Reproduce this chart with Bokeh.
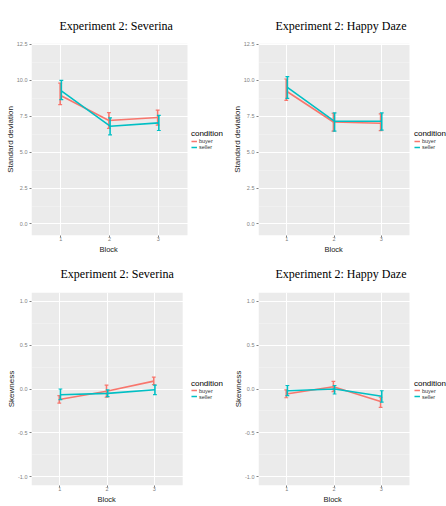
from bokeh.plotting import figure
from bokeh.layouts import gridplot
from bokeh.models import (ColumnDataSource, FixedTicker, PrintfTickFormatter,
                          Legend, LegendItem, Title, BoxAnnotation)
from bokeh.embed import file_html
from bokeh.resources import INLINE

blocks = [1, 2, 3]
conditions = ["buyer", "seller"]
colors = {"buyer": "#F8766D", "seller": "#00BFC4"}

# Standard deviation, Severina
sev_sd_buyer = [8.95, 7.2, 7.4]
sev_sd_buyer_lo = [8.3, 6.65, 6.87]
sev_sd_buyer_hi = [9.8, 7.75, 7.92]
sev_sd_seller = [9.25, 6.8, 7.03]
sev_sd_seller_lo = [8.65, 6.2, 6.5]
sev_sd_seller_hi = [9.98, 7.38, 7.55]

# Standard deviation, Happy Daze
hd_sd_buyer = [9.25, 7.09, 7.0]
hd_sd_buyer_lo = [8.6, 6.46, 6.49]
hd_sd_buyer_hi = [10.08, 7.7, 7.66]
hd_sd_seller = [9.5, 7.14, 7.14]
hd_sd_seller_lo = [8.74, 6.46, 6.53]
hd_sd_seller_hi = [10.25, 7.72, 7.72]

# Skewness, Severina
sev_sk_buyer = [-0.12, -0.026, 0.09]
sev_sk_buyer_lo = [-0.16, -0.094, 0.05]
sev_sk_buyer_hi = [-0.075, 0.045, 0.136]
sev_sk_seller = [-0.065, -0.05, -0.008]
sev_sk_seller_lo = [-0.12, -0.087, -0.065]
sev_sk_seller_hi = [0.0, -0.01, 0.045]

# Skewness, Happy Daze
hd_sk_buyer = [-0.057, 0.026, -0.143]
hd_sk_buyer_lo = [-0.1, -0.03, -0.21]
hd_sk_buyer_hi = [-0.01, 0.087, -0.094]
hd_sk_seller = [-0.02, 0.0, -0.083]
hd_sk_seller_lo = [-0.075, -0.057, -0.15]
hd_sk_seller_hi = [0.04, 0.04, -0.02]

sd_ticks = [0.0, 2.5, 5.0, 7.5, 10.0, 12.5]
sd_minor = [1.25, 3.75, 6.25, 8.75, 11.25]
sk_ticks = [-1.0, -0.5, 0.0, 0.5, 1.0]
sk_minor = [-0.75, -0.25, 0.25, 0.75]

X_LO, X_HI = 0.4, 3.6
DODGE = {"buyer": -0.012, "seller": 0.012}
CAP = 0.04
W, H = 223, 253


def make_panel(title, ylabel, yrange, yticks, yminor, series, left, panel_right, top, bottom,
               title_offset, title_standoff, xlabel_offset):
    # extend the x range past the panel so the legend sits inside the canvas frame
    x_end = X_LO + (X_HI - X_LO) * (W - left) / (panel_right - left)
    p = figure(width=W, height=H, x_range=(X_LO, x_end), y_range=yrange,
               output_backend="svg", toolbar_location=None,
               min_border_left=left, min_border_right=0,
               min_border_top=top, min_border_bottom=bottom,
               background_fill_color="white", border_fill_color="white",
               outline_line_color=None)
    p.add_layout(BoxAnnotation(left=X_LO, right=X_HI, fill_color="#EBEBEB", fill_alpha=1,
                               line_color=None, level="image"))
    p.title = Title(text=title, text_font="Liberation Serif", text_font_size="12px",
                    text_font_style="normal", text_color="black", align="left",
                    offset=title_offset, standoff=title_standoff)
    p.add_layout(Title(text="Block", text_font="Liberation Sans", text_font_size="7.5px",
                       text_font_style="normal", text_color="#222222", align="left",
                       offset=xlabel_offset, standoff=-1), "below")
    p.xaxis.ticker = FixedTicker(ticks=blocks)
    p.xaxis.bounds = (X_LO, X_HI)
    p.yaxis.ticker = FixedTicker(ticks=yticks, minor_ticks=yminor)
    p.yaxis.formatter = PrintfTickFormatter(format="%.1f")
    for ax in (p.xaxis, p.yaxis):
        ax.axis_line_color = None
        ax.major_tick_line_color = "#7f7f7f"
        ax.major_tick_out = 2
        ax.major_tick_in = 0
        ax.minor_tick_line_color = None
        ax.major_label_text_font = "Liberation Sans"
        ax.major_label_text_font_size = "5.5px"
        ax.major_label_text_color = "#7f7f7f"
        ax.major_label_standoff = 0
        ax.axis_label_text_font = "Liberation Sans"
        ax.axis_label_text_font_size = "8px"
        ax.axis_label_text_font_style = "normal"
        ax.axis_label_text_color = "#222222"
        ax.axis_label_standoff = -1
    p.xaxis.major_label_standoff = -1
    p.yaxis.axis_label = ylabel
    p.xgrid.grid_line_color = "white"
    p.xgrid.grid_line_width = 1
    p.ygrid.grid_line_color = "white"
    p.ygrid.grid_line_width = 1
    p.ygrid.bounds = (X_LO, X_HI)
    p.ygrid.minor_grid_line_color = "white"
    p.ygrid.minor_grid_line_alpha = 0.45
    p.ygrid.minor_grid_line_width = 0.6

    items = []
    for cond in conditions:
        mean, lo, hi = series[cond]
        xs = [b + DODGE[cond] for b in blocks]
        src = ColumnDataSource(dict(x=xs, y=mean, lo=lo, hi=hi,
                                    x0=[x - CAP for x in xs], x1=[x + CAP for x in xs]))
        c = colors[cond]
        r = p.line("x", "y", source=src, line_color=c, line_width=1.6)
        p.segment(x0="x", y0="lo", x1="x", y1="hi", source=src, line_color=c, line_width=1.6)
        p.segment(x0="x0", y0="lo", x1="x1", y1="lo", source=src, line_color=c, line_width=1.2)
        p.segment(x0="x0", y0="hi", x1="x1", y1="hi", source=src, line_color=c, line_width=1.2)
        items.append(LegendItem(label=cond, renderers=[r]))

    legend = Legend(items=items, title="condition", location="center_right",
                    title_text_font="Liberation Sans", title_text_font_size="8px",
                    title_text_color="black", title_text_font_style="normal",
                    title_standoff=0,
                    label_text_font="Liberation Sans", label_text_font_size="5.5px",
                    label_text_color="#333333", label_standoff=2,
                    glyph_width=6, glyph_height=5, label_height=6,
                    spacing=0, padding=1, margin=0,
                    background_fill_alpha=0, border_line_color=None)
    p.add_layout(legend)
    return p


p1 = make_panel("Experiment 2: Severina", "Standard deviation", (-0.8, 12.55), sd_ticks, sd_minor,
                {"buyer": (sev_sd_buyer, sev_sd_buyer_lo, sev_sd_buyer_hi),
                 "seller": (sev_sd_seller, sev_sd_seller_lo, sev_sd_seller_hi)},
                31, 187, 43, 14, 28, 22, 68)
p2 = make_panel("Experiment 2: Happy Daze", "Standard deviation", (-0.8, 12.55), sd_ticks, sd_minor,
                {"buyer": (hd_sd_buyer, hd_sd_buyer_lo, hd_sd_buyer_hi),
                 "seller": (hd_sd_seller, hd_sd_seller_lo, hd_sd_seller_hi)},
                35, 186, 43, 14, 17, 22, 66)
p3 = make_panel("Experiment 2: Severina", "Skewness", (-1.1, 1.1), sk_ticks, sk_minor,
                {"buyer": (sev_sk_buyer, sev_sk_buyer_lo, sev_sk_buyer_hi),
                 "seller": (sev_sk_seller, sev_sk_seller_lo, sev_sk_seller_hi)},
                30, 182, 38, 21, 29, 23, 66)
p4 = make_panel("Experiment 2: Happy Daze", "Skewness", (-1.1, 1.1), sk_ticks, sk_minor,
                {"buyer": (hd_sk_buyer, hd_sk_buyer_lo, hd_sk_buyer_hi),
                 "seller": (hd_sk_seller, hd_sk_seller_lo, hd_sk_seller_hi)},
                35, 186, 38, 21, 17, 23, 65)

grid = gridplot([[p1, p2], [p3, p4]], toolbar_location=None)

open("out.html", "w").write(file_html(grid, INLINE))
